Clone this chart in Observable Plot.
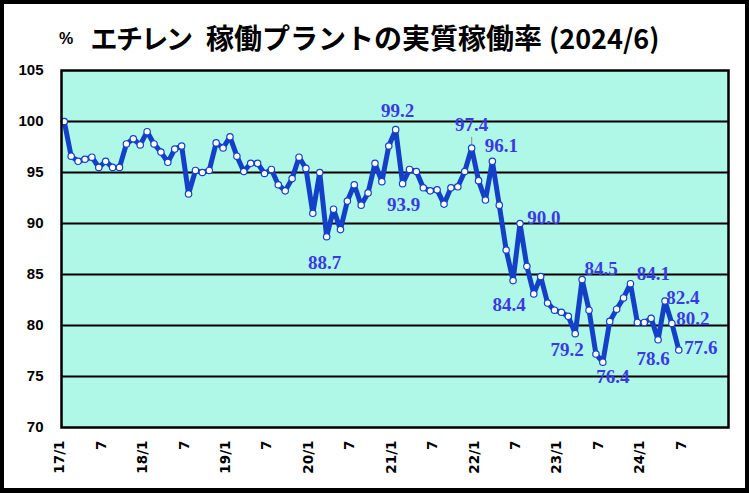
<!DOCTYPE html>
<html><head><meta charset="utf-8">
<script src="https://cdn.jsdelivr.net/npm/d3@7"></script>
<script src="https://cdn.jsdelivr.net/npm/@observablehq/plot@0.6"></script>
<style>
body{margin:0;background:#fff;}
#wrap{position:relative;width:749px;height:493px;overflow:hidden;background:#fff;}
#frame{position:absolute;left:0;top:0;width:749px;height:493px;box-sizing:border-box;border:4px solid #000;border-bottom-width:5px;pointer-events:none;}
.t{position:absolute;top:22px;font-family:"Noto Sans CJK JP";font-weight:bold;font-size:27px;white-space:pre;line-height:32px;color:#000;}
.palt{font-feature-settings:"palt";}
.pct{font-size:16px;font-family:"Liberation Sans";top:23px;}
#chart{position:absolute;left:0;top:0;}
</style>
</head><body>
<div id="wrap">
  <div id="chart"></div>
  <div class="t pct" style="left:59px">%</div>
  <div class="t palt" style="left:91px">エチレン</div>
  <div class="t" style="left:206px;font-size:28px;top:21px">稼働プラントの実質稼働率</div>
  <div class="t palt" style="left:549px">(2024/6)</div>
  <div id="frame"></div>
</div>
<script>
// Monthly values, 2017/1 .. 2024/6
const values = [
  100.0, 96.6, 96.1, 96.3, 96.5, 95.5, 96.1, 95.5, 95.5, 97.8, 98.3, 97.7,
  99.0, 97.8, 97.0, 96.0, 97.3, 97.6, 92.9, 95.2, 95.0, 95.2, 97.9, 97.4,
  98.5, 96.6, 95.1, 95.9, 95.9, 94.9, 95.3, 93.8, 93.2, 94.4, 96.5, 95.4,
  91.0, 95.0, 88.7, 91.4, 89.4, 92.2, 93.8, 91.8, 93.0, 95.9, 94.1, 97.6,
  99.2, 93.9, 95.3, 95.1, 93.5, 93.2, 93.3, 91.9, 93.5, 93.6, 95.1, 97.4,
  94.2, 92.3, 96.1, 91.8, 87.4, 84.4, 90.0, 85.8, 83.1, 84.8, 82.2, 81.5,
  81.3, 80.9, 79.2, 84.5, 81.5, 77.2, 76.4, 80.4, 81.6, 82.7, 84.1, 80.3,
  80.3, 80.7, 78.6, 82.4, 80.2, 77.6
];
const tickLabels = ["17/1","7","18/1","7","19/1","7","20/1","7","21/1","7","22/1","7","23/1","7","24/1","7"];
const yTicks = [70, 75, 80, 85, 90, 95, 100, 105];
const gridLines = [75, 80, 85, 90, 95, 100];
const labelIdx = [38, 48, 49, 59, 62, 65, 66, 74, 75, 78, 82, 86, 87, 88, 89];
const leaderIdx = [59];

// layout (pixel offsets of labels from their points)
const labelOffsets = {
  38: [-2, 26], 48: [2, -19], 49: [1, 21], 59: [0, -23], 62: [9, -15],
  65: [-4, 24], 66: [24, -6], 74: [-8, 16], 75: [19, -11], 78: [10, 15],
  82: [23, -10], 86: [-5, 19], 87: [18, -3], 88: [21, -5], 89: [22, -2]
};

const data = values.map((v, i) => ({i, v}));
const tickIdx = tickLabels.map((_, k) => k * 6);
const lineColor = "#1440c8";
const labelColor = "#3a3ae2";

const labelMarks = labelIdx.map(i => Plot.text([data[i]], {
  x: "i", y: "v", text: d => d.v.toFixed(1),
  dx: labelOffsets[i][0], dy: labelOffsets[i][1],
  fill: labelColor, fontFamily: "Liberation Serif", fontWeight: "bold", fontSize: 19
}));

const chart = Plot.plot({
  width: 749, height: 493,
  marginLeft: 61, marginRight: 21, marginTop: 70, marginBottom: 66,
  x: {domain: [-0.4, 96.2], axis: null},
  y: {domain: [70, 105], axis: null},
  style: {background: "transparent", overflow: "visible"},
  marks: [
    Plot.frame({fill: "url(#dith)"}),
    Plot.ruleY(gridLines, {stroke: "#000", strokeWidth: 2}),
    Plot.ruleX(leaderIdx.map(i => data[i]), {x: "i", y1: "v", y2: "v", insetTop: -3, insetBottom: 10.5, stroke: "#999", strokeWidth: 1.2}),
    Plot.line(data, {x: "i", y: "v", stroke: lineColor, strokeWidth: 5, strokeLinejoin: "round", curve: "linear"}),
    Plot.dot(data, {x: "i", y: "v", r: 3.2, fill: "#fff", stroke: lineColor, strokeWidth: 1.2}),
    ...labelMarks,
    Plot.frame({stroke: "#000", strokeWidth: 2.5}),
    Plot.text(yTicks, {y: d => d, frameAnchor: "left", dx: -18, textAnchor: "end", text: d => String(d),
      fontFamily: "Liberation Sans", fontWeight: "bold", fontSize: 15, fill: "#000"}),
    Plot.text(tickIdx, {x: d => d, frameAnchor: "bottom", text: (d, k) => tickLabels[k], rotate: -90,
      textAnchor: "end", dy: 13, fontFamily: "DejaVu Sans", fontWeight: "bold", fontSize: 13.5, fill: "#000"})
  ]
});
// dithered plot-area fill
const ns = "http://www.w3.org/2000/svg";
const defs = document.createElementNS(ns, "defs");
defs.innerHTML = '<pattern id="dith" width="2" height="2" patternUnits="userSpaceOnUse">' +
  '<rect width="2" height="2" fill="#bcfde2"/><rect width="1" height="1" fill="#a2f1ec"/>' +
  '<rect x="1" y="1" width="1" height="1" fill="#a2f1ec"/></pattern>';
chart.insertBefore(defs, chart.firstChild);
document.getElementById("chart").appendChild(chart);
</script>
</body></html>
